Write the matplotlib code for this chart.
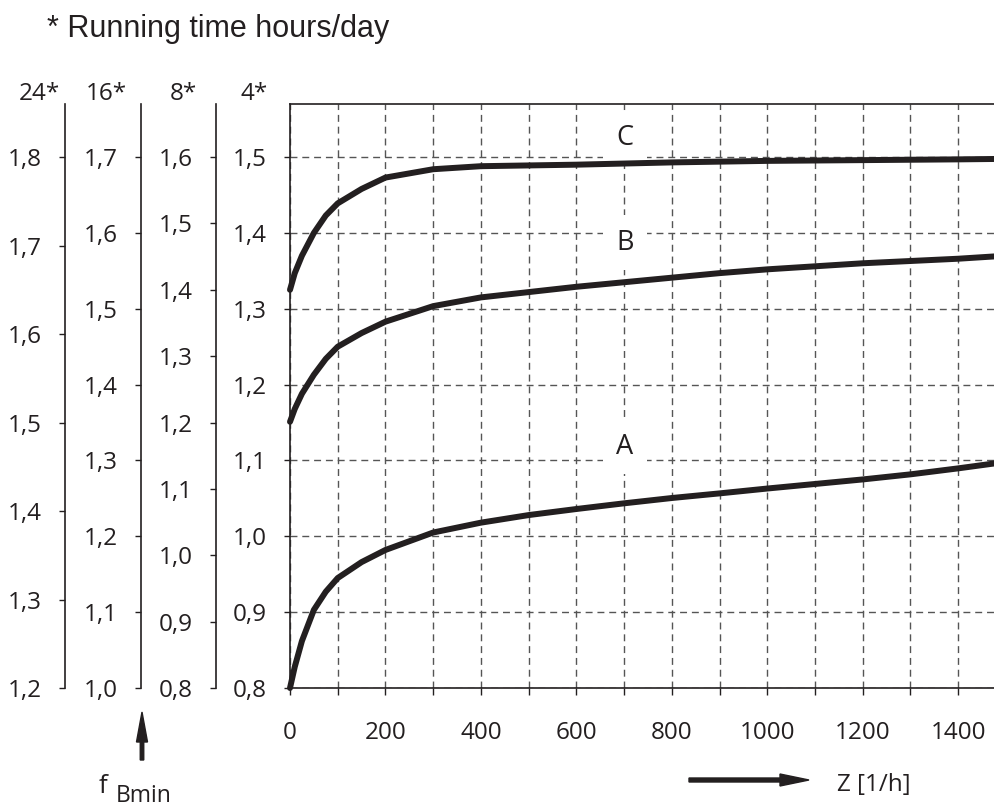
import matplotlib
matplotlib.use('Agg')
import matplotlib.pyplot as plt
from matplotlib import font_manager
from matplotlib.patches import FancyArrow
from matplotlib.transforms import IdentityTransform
from matplotlib.ticker import FuncFormatter, MultipleLocator

# data
z = [0, 10, 25, 50, 75, 100, 150, 200, 300, 400, 500, 600, 700, 800, 900,
     1000, 1100, 1200, 1300, 1400, 1475]
curve_a = [0.80, 0.828, 0.862, 0.903, 0.927, 0.945, 0.966, 0.982, 1.005, 1.018, 1.028,
           1.036, 1.0435, 1.0505, 1.0566, 1.063, 1.069, 1.075, 1.0817, 1.0896, 1.096]
curve_b = [1.151, 1.168, 1.188, 1.213, 1.234, 1.250, 1.268, 1.283, 1.3035, 1.315, 1.322,
           1.329, 1.335, 1.341, 1.347, 1.352, 1.356, 1.360, 1.363, 1.366, 1.369]
curve_c = [1.325, 1.347, 1.370, 1.40, 1.423, 1.439, 1.458, 1.473, 1.484, 1.488, 1.489,
           1.490, 1.4915, 1.493, 1.494, 1.495, 1.4955, 1.496, 1.4965, 1.497, 1.4975]
curve_names = ['A', 'B', 'C']
label_pos = [(702, 1.118), (702, 1.387), (702, 1.525)]

hours = ['24*', '16*', '8*', '4*']
scale_24 = [1.2, 1.3, 1.4, 1.5, 1.6, 1.7, 1.8]
scale_16 = [1.0, 1.1, 1.2, 1.3, 1.4, 1.5, 1.6, 1.7]
scale_8 = [0.8, 0.9, 1.0, 1.1, 1.2, 1.3, 1.4, 1.5, 1.6]
scale_4 = [0.8, 0.9, 1.0, 1.1, 1.2, 1.3, 1.4, 1.5]

names = {f.name for f in font_manager.fontManager.ttflist}
fnt = 'Liberation Sans Narrow' if 'Liberation Sans Narrow' in names else 'Open Sans'
plt.rcParams['font.family'] = [fnt, 'DejaVu Sans']
fs = 17.5
ink = '#231f20'

W, H = 994, 809
fig = plt.figure(figsize=(W/100, H/100), dpi=100)
ax = fig.add_axes([290/W, (H-688)/H, 704/W, 584/H])

top = 1.57
ax.set_xlim(0, 1475)
ax.set_ylim(0.8, top)
ax.set_axisbelow(True)

comma = FuncFormatter(lambda v, p: ('%.1f' % v).replace('.', ','))

ax.xaxis.set_major_locator(MultipleLocator(200))
ax.xaxis.set_minor_locator(MultipleLocator(100))
ax.set_yticks(scale_4)
ax.yaxis.set_major_formatter(comma)
ax.grid(True, which='both', color='#555555', lw=1, ls=(0, (5, 3.5)))
ax.tick_params(axis='x', which='both', direction='out', length=5, width=1,
               color=ink, labelsize=fs, pad=19, labelcolor=ink)
ax.tick_params(axis='y', direction='out', length=4.5, width=1, color=ink,
               labelsize=fs, pad=12, labelcolor=ink)
ax.spines['right'].set_visible(False)
for s in ['left', 'top', 'bottom']:
    ax.spines[s].set_color(ink)
    ax.spines[s].set_linewidth(1.2)

for y, nm in zip([curve_a, curve_b, curve_c], curve_names):
    ax.plot(z, y, color=ink, lw=4.3, solid_capstyle='round', solid_joinstyle='round',
            zorder=3, clip_on=False)
for nm, (lx, ly) in zip(curve_names, label_pos):
    ax.text(lx, ly, nm, ha='center', va='center', fontsize=fs + 2, color=ink, zorder=2,
            bbox=dict(boxstyle='square,pad=0.5', fc='white', ec='none'))

# extra scales for other running times
for vals, xpix in zip([scale_24, scale_16, scale_8], [65, 141, 216]):
    sec = ax.twinx()
    hi = vals[0] + (vals[-1] - vals[0]) * (top - scale_4[0]) / (scale_4[-1] - scale_4[0])
    sec.set_ylim(vals[0], hi)
    for s in ['right', 'top', 'bottom']:
        sec.spines[s].set_visible(False)
    sec.spines['left'].set_visible(True)
    sec.spines['left'].set_position(('axes', (xpix - 290) / 704))
    sec.spines['left'].set_color(ink)
    sec.spines['left'].set_linewidth(1.2)
    sec.yaxis.set_ticks_position('left')
    sec.set_yticks(vals)
    sec.yaxis.set_major_formatter(comma)
    sec.tick_params(axis='y', direction='out', length=4.5, width=1, color=ink,
                    labelsize=fs, pad=12, labelcolor=ink)

for h, xpix in zip(hours, [39, 106, 183, 254]):
    fig.text(xpix/W, 1 - 94/H, h, ha='center', va='center', fontsize=fs, color=ink)

fig.text(47/W, 1 - 37/H, '* Running time hours/day', ha='left', va='baseline',
         fontsize=22, color=ink, family='Liberation Sans')

fig.text(103/W, 1 - 793/H, 'f', ha='center', va='baseline', fontsize=fs + 1, color=ink)
fig.text(116/W, 1 - 802/H, 'Bmin', ha='left', va='baseline', fontsize=fs - 1, color=ink)
fig.text(837/W, 1 - 785/H, 'Z [1/h]', ha='left', va='center', fontsize=fs, color=ink)

# arrows
fig.patches.append(FancyArrow(142, H - 760, 0, 48, width=3.5, head_width=11,
                              head_length=30, length_includes_head=True,
                              color=ink, transform=IdentityTransform()))
fig.patches.append(FancyArrow(689, H - 780, 120, 0, width=4, head_width=12,
                              head_length=29, length_includes_head=True,
                              color=ink, transform=IdentityTransform()))

fig.savefig('out.png', dpi=100)
